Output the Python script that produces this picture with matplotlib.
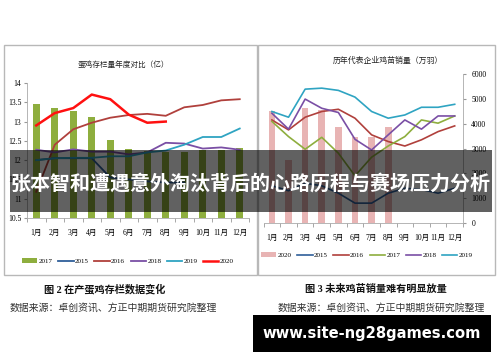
import matplotlib
matplotlib.use("Agg")
import matplotlib.pyplot as plt
from matplotlib.patches import Rectangle
import numpy as np

plt.rcParams['font.family'] = ['Liberation Serif', 'Noto Sans CJK SC', 'DejaVu Sans']

months = ['1月', '2月', '3月', '4月', '5月', '6月', '7月', '8月', '9月', '10月', '11月', '12月']

# left chart: laying hen stock (亿)
hen_2017 = [13.45, 13.35, 13.28, 13.13, 12.53, 12.28, 12.25, 12.2, 12.2, 12.27, 12.27, 12.32]
hen_2015 = [12.0, 12.05, 12.05, 12.05, 11.55, 11.5, 11.45, 11.42, 11.42]
hen_2016 = [11.18, 12.4, 12.8, 12.97, 13.1, 13.17, 13.2, 13.15, 13.37, 13.43, 13.55, 13.58]
hen_2018 = [12.27, 12.2, 12.28, 12.22, 12.22, 12.15, 12.2, 12.45, 12.43, 12.3, 12.33, 12.27]
hen_2019 = [12.0, 12.05, 12.06, 12.06, 12.1, 12.1, 12.2, 12.25, 12.4, 12.6, 12.6, 12.82]
hen_2020 = [12.9, 13.22, 13.35, 13.7, 13.58, 13.18, 12.97, 13.0]

# right chart: chick sales (万羽)
chick_2020 = [4490, 2540, 4620, 4560, 3860, 3480, 3480, 3860]
chick_2015 = [1500, 1300, 1600, 1500, 1200, 800, 800, 1200, 1400, 1350, 1200, 1400]
chick_2016 = [4150, 3750, 4260, 4490, 4580, 4220, 3550, 3280, 3100, 3350, 3680, 3910]
chick_2017 = [4090, 3480, 2970, 3450, 2810, 1900, 2650, 3100, 3480, 4150, 4020, 4310]
chick_2018 = [4420, 3780, 4990, 4620, 4450, 3370, 2940, 3550, 4150, 3780, 4310, 4310]
chick_2019 = [4490, 4260, 5390, 5430, 5340, 5070, 4490, 4220, 4350, 4660, 4660, 4780]

c2015 = '#2f5f9a'
c2016 = '#b0403c'
c2017 = '#8eae3e'
c2018 = '#7a4fa5'
c2019 = '#2fa4c2'
c2020 = '#ff1010'
cbar20 = '#e8b4b4'

W, H = 500, 362
fig = plt.figure(figsize=(5, 3.62), dpi=100)


def fbox(x0, y0, x1, y1):
    return [x0 / W, 1 - y1 / H, (x1 - x0) / W, (y1 - y0) / H]


# panel frames
for x0, x1 in [(4, 257), (258, 495)]:
    fig.patches.append(Rectangle((x0 / W, 1 - 275 / H), (x1 - x0) / W, 230 / H,
                                 transform=fig.transFigure, fill=False,
                                 edgecolor='#b8b8b8', lw=1.0))

x = np.arange(12)

# ---- left chart
ax1 = fig.add_axes(fbox(27, 83, 249, 218))
ax1.bar(x, [v - 10.5 for v in hen_2017], bottom=10.5, width=0.38, color=c2017, label='2017')
ax1.plot(x[:len(hen_2015)], hen_2015, color=c2015, lw=1.3, label='2015')
ax1.plot(x, hen_2016, color=c2016, lw=1.3, label='2016')
ax1.plot(x, hen_2018, color=c2018, lw=1.3, label='2018')
ax1.plot(x, hen_2019, color=c2019, lw=1.3, label='2019')
ax1.plot(x[:len(hen_2020)], hen_2020, color=c2020, lw=1.8, label='2020')
ax1.set_xlim(-0.5, 11.5)
ax1.set_ylim(10.5, 14)
ax1.set_yticks([10.5, 11, 11.5, 12, 12.5, 13, 13.5, 14])
ax1.set_yticklabels(['10.5', '11', '11.5', '12', '12.5', '13', '13.5', '14'])
ax1.set_xticks(x)
ax1.set_xticklabels(months)
ax1.set_xticks(np.arange(-0.5, 12, 1), minor=True)
ax1.tick_params(axis='x', which='major', length=0, labelsize=5.5, pad=8)
ax1.tick_params(axis='x', which='minor', length=3, color='#999999')
ax1.tick_params(axis='y', length=2, labelsize=5.5, color='#999999', pad=2)
for s in ['top', 'right']:
    ax1.spines[s].set_visible(False)
ax1.spines['left'].set_color('#aaaaaa')
ax1.spines['bottom'].set_color('#aaaaaa')
ax1.spines['left'].set_linewidth(0.6)
ax1.spines['bottom'].set_linewidth(0.6)
fig.text(123 / W, 1 - 65 / H, '蛋鸡存栏量年度对比（亿）', ha='center', va='center',
         fontsize=5.5, color='#222222')
h, l = ax1.get_legend_handles_labels()
h, l = h[-1:] + h[:-1], l[-1:] + l[:-1]
fig.legend(h, l, loc='center', bbox_to_anchor=(128 / W, 1 - 261 / H), ncol=6,
           fontsize=5, frameon=False, handlelength=2.2, handletextpad=0.2,
           columnspacing=0.8)

# ---- right chart
ax2 = fig.add_axes(fbox(263.6, 74, 463, 223))
ax2.bar(x[:len(chick_2020)], chick_2020, width=0.4, color=cbar20, label='2020')
ax2.plot(x, chick_2015, color=c2015, lw=1.2, label='2015')
ax2.plot(x, chick_2016, color=c2016, lw=1.2, label='2016')
ax2.plot(x, chick_2017, color=c2017, lw=1.2, label='2017')
ax2.plot(x, chick_2018, color=c2018, lw=1.2, label='2018')
ax2.plot(x, chick_2019, color=c2019, lw=1.2, label='2019')
ax2.set_xlim(-0.5, 11.5)
ax2.set_ylim(0, 6000)
ax2.set_yticks(range(0, 6001, 1000))
ax2.yaxis.tick_right()
ax2.set_xticks(x)
ax2.set_xticklabels(months)
ax2.set_xticks(np.arange(-0.5, 12, 1), minor=True)
ax2.tick_params(axis='x', which='major', length=0, labelsize=5.5, pad=8)
ax2.tick_params(axis='x', which='minor', length=3, color='#999999')
ax2.tick_params(axis='y', length=2, labelsize=5.5, color='#999999', pad=4)
for s in ['top', 'left']:
    ax2.spines[s].set_visible(False)
ax2.spines['right'].set_color('#aaaaaa')
ax2.spines['bottom'].set_color('#aaaaaa')
ax2.spines['right'].set_linewidth(0.6)
ax2.spines['bottom'].set_linewidth(0.6)
fig.text(388 / W, 1 - 61 / H, '历年代表企业鸡苗销量（万羽）', ha='center', va='center',
         fontsize=5.7, color='#222222')
h, l = ax2.get_legend_handles_labels()
h, l = h[-1:] + h[:-1], l[-1:] + l[:-1]
fig.legend(h, l, loc='center', bbox_to_anchor=(367 / W, 1 - 255 / H), ncol=6,
           fontsize=5, frameon=False, handlelength=2.2, handletextpad=0.2,
           columnspacing=0.8)

# captions
fig.text(105 / W, 1 - 289 / H, '图 2 在产蛋鸡存栏数据变化', ha='center', va='center',
         fontsize=7.3, fontweight='bold', color='#111111')
fig.text(376 / W, 1 - 289 / H, '图 3 未来鸡苗销量难有明显放量', ha='center', va='center',
         fontsize=7.3, fontweight='bold', color='#111111')
fig.text(10 / W, 1 - 308 / H, '数据来源：卓创资讯、方正中期期货研究院整理', ha='left',
         va='center', fontsize=7.1, color='#333333')
fig.text(278 / W, 1 - 308 / H, '数据来源：卓创资讯、方正中期期货研究院整理', ha='left',
         va='center', fontsize=7.1, color='#333333')

# overlay title banner
fig.patches.append(Rectangle((10 / W, 1 - 212 / H), 482 / W, 62 / H,
                             transform=fig.transFigure, facecolor='black',
                             alpha=0.62, edgecolor='none', zorder=10))
fig.text(251 / W, 1 - 183 / H, '张本智和遭遇意外淘汰背后的心路历程与赛场压力分析',
         ha='center', va='center', fontsize=14.4, fontweight='bold', color='white',
         family=['Noto Sans CJK SC', 'DejaVu Sans'], zorder=11)

# url banner
fig.patches.append(Rectangle((253 / W, 1 - 352 / H), 238 / W, 37 / H,
                             transform=fig.transFigure, facecolor='black',
                             edgecolor='none', zorder=10))
fig.text(372 / W, 1 - 333.5 / H, 'www.site-ng28games.com', ha='center', va='center',
         fontsize=10.6, fontweight='bold', color='white', family='DejaVu Sans', zorder=11)

fig.savefig('out.png', dpi=100)
